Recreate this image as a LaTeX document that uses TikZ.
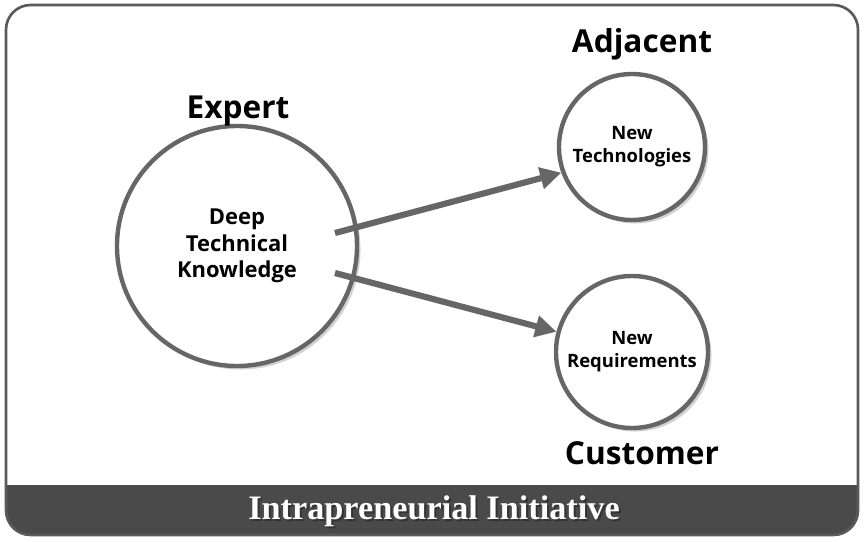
\documentclass[tikz,border=0pt]{standalone}
\usepackage{fontspec}
\setsansfont{Open Sans}
\setmainfont{Liberation Serif}
\usetikzlibrary{arrows.meta,positioning,shadows}
\definecolor{frameGray}{HTML}{5A5A5A}
\definecolor{bandGray}{HTML}{4A4A4A}
\definecolor{ringGray}{HTML}{666666}
\tikzset{
    ring/.style={
        circle,
        draw=ringGray,
        fill=white,
        line width=2.5pt,
        align=center,
        drop shadow={opacity=0.35, shadow xshift=2pt, shadow yshift=-2pt},
        font=\sffamily\bfseries
    },
    heading/.style={
        font=\sffamily\bfseries\fontsize{18}{21}\selectfont
    },
    arrow/.style={
        -{Triangle[length=12pt,width=12pt]},
        line width=3.5pt,
        color=ringGray
    }
}
\begin{document}
\begin{tikzpicture}[x=0.02cm,y=-0.02cm]
    \useasboundingbox (0,0) rectangle (865,541);
    % frame and band
    \fill[white] (0,0) rectangle (865,541);
    \begin{scope}
        \clip[rounded corners=14pt] (6,5) rectangle (858,535);
        \fill[bandGray] (6,485) rectangle (858,535);
    \end{scope}
    \draw[frameGray, line width=1.5pt, rounded corners=14pt] (6,5) rectangle (858,535);
    \node[white!20!black, font=\rmfamily\bfseries\fontsize{19.5}{22}\selectfont] at (436,513) {Intrapreneurial Initiative};
    \node[white, font=\rmfamily\bfseries\fontsize{19.5}{22}\selectfont] (band) at (434,511) {Intrapreneurial Initiative};
    % circles
    \node[ring, minimum size=240*0.02cm, font=\sffamily\bfseries\fontsize{12.5}{15}\selectfont] (deep) at (237,246) {\\[-6pt]Deep\\Technical\\Knowledge};
    \node[ring, minimum size=146*0.02cm, font=\sffamily\bfseries\fontsize{10.5}{13}\selectfont] (tech) at (632,147) {New\\Technologies};
    \node[ring, minimum size=152*0.02cm, font=\sffamily\bfseries\fontsize{10.5}{13}\selectfont] (req) at (632,352) {New\\Requirements};
    % headings
    \node[heading] (expert) at (238,111) {Expert};
    \node[heading] (adjacent) at (642,44) {Adjacent};
    \node[heading] (customer) at (642,453) {Customer};
    % arrows
    \coordinate (s1) at (335,233);
    \coordinate (s2) at (335,273);
    \draw[arrow] (s1) -- (tech.200);
    \draw[arrow] (s2) -- (req.165);
\end{tikzpicture}
\end{document}
